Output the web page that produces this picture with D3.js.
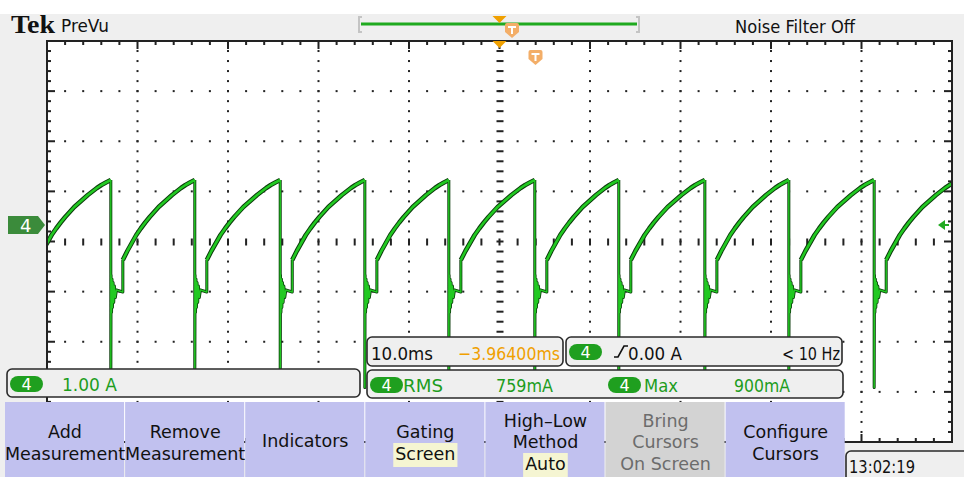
<!DOCTYPE html>
<html><head><meta charset="utf-8">
<script src="https://cdn.jsdelivr.net/npm/d3@7"></script>
<style>body{margin:0;background:#fff}svg{display:block}</style>
</head><body>
<svg id="c" width="964" height="477" font-family="DejaVu Sans, sans-serif"></svg>
<script>
// ---------- data ----------
// times (ms) at which the current drops; first one lies just off screen to the left
const dropTimes = [-52.32, -42.95, -33.67, -24.23, -14.88, -5.60, 3.90, 13.18, 22.69, 31.97, 41.40];
// shape of the rising ramp after each drop (ms after ramp start, amps)
const rampOffsetsMs = [0, 0.5, 1.0, 1.5, 2.0, 2.5, 3.0, 3.5, 4.0, 4.5, 5.0, 5.5, 6.0, 6.5, 7.0, 7.5, 8.04];
const rampAmps      = [-0.70, -0.52, -0.36, -0.20, -0.07, 0.05, 0.16, 0.26, 0.36, 0.44, 0.52, 0.60, 0.67, 0.74, 0.80, 0.85, 0.90];
// the drop, spike and ringing just after each drop (ms after drop, amps)
const ringOffsetsMs = [0, 0, 0.03, 0.08, 0.13, 0.18, 0.25, 0.32, 0.40, 0.50, 0.62, 1.33, 1.33];
const ringAmps      = [0.90, -3.25, -1.00, -1.75, -1.08, -1.65, -1.15, -1.55, -1.22, -1.45, -1.30, -1.34, -0.70];
// readouts
const timeDomainMs = [-50, 50];       // 10 divisions x 10.0 ms
const ampDomain = [-4.34, 3.68];      // 8 divisions x 1.00 A, ch4 ground at 0 A
const horizScale = "10.0ms", horizPos = "\u22123.96400ms";
const trigLevel = "0.00 A", trigFreq = "< 10 Hz";
const chScale = "1.00 A";
const measNames = ["RMS", "Max"], measValues = ["759mA", "900mA"];
const buttonLabels = [["Add","Measurement"],["Remove","Measurement"],["Indicators"],["Gating","Screen"],["High\u2013Low","Method","Auto"],["Bring","Cursors","On Screen"],["Configure","Cursors"]];
const clockText = "13:02:19";

// ---------- layout ----------
const svg = d3.select("#c");
const P = {l:47, r:952, t:41, b:442};
const x = d3.scaleLinear().domain(timeDomainMs).range([P.l, P.r]);
const y = d3.scaleLinear().domain(ampDomain).range([P.b, P.t]);
const xd = d3.scaleLinear().domain([0,10]).range([P.l, P.r]);
const yd = d3.scaleLinear().domain([0,8]).range([P.t, P.b]);

svg.append("rect").attr("width",964).attr("height",477).attr("fill","#fff");
svg.append("rect").attr("x",0).attr("y",14).attr("width",964).attr("height",463).attr("fill","#efefef");
svg.append("rect").attr("x",P.l).attr("y",P.t).attr("width",P.r-P.l).attr("height",P.b-P.t).attr("fill","#fff");

// graticule
const g = svg.append("g").attr("fill","#222");
const minorX = d3.range(0,51).map(m=>m/5), minorY = d3.range(0,41).map(j=>j/5);
[1,2,3,4,6,7,8,9].forEach(i=>{
  g.selectAll(null).data(minorY).join("rect").attr("x",xd(i)-1).attr("y",d=>yd(d)-1).attr("width",2).attr("height",2);
});
[1,2,3,5,6,7].forEach(k=>{
  g.selectAll(null).data(minorX).join("rect").attr("x",d=>xd(d)-1).attr("y",yd(k)-1).attr("width",2).attr("height",2);
});
g.selectAll(null).data(minorY).join("rect").attr("x",xd(5)-3).attr("y",d=>yd(d)-1).attr("width",7).attr("height",2);
g.selectAll(null).data(minorX).join("rect").attr("x",d=>xd(d)-1).attr("y",yd(4)-3).attr("width",2).attr("height",7);
const tl = d=> (Math.round(d*5)%5===0)?8:4;
g.selectAll(null).data(minorX).join("rect").attr("x",d=>xd(d)-1).attr("y",P.t).attr("width",2).attr("height",tl);
g.selectAll(null).data(minorX).join("rect").attr("x",d=>xd(d)-1).attr("y",d=>P.b-tl(d)).attr("width",2).attr("height",tl);
g.selectAll(null).data(minorY).join("rect").attr("x",P.l).attr("y",d=>yd(d)-1).attr("width",tl).attr("height",2);
g.selectAll(null).data(minorY).join("rect").attr("x",d=>P.r-tl(d)).attr("y",d=>yd(d)-1).attr("width",tl).attr("height",2);
svg.append("rect").attr("x",P.l).attr("y",P.t).attr("width",P.r-P.l).attr("height",P.b-P.t)
  .attr("fill","none").attr("stroke","#222").attr("stroke-width",2);

// ---------- trace ----------
const rampSegs = [], ringSegs = [];
for (let i=0;i<dropTimes.length;i++){
  const td = dropTimes[i];
  if (i>0) ringSegs.push(ringOffsetsMs.map((o,k)=>[td+o, ringAmps[k]]));
  const t0 = td + ringOffsetsMs[ringOffsetsMs.length-1];
  const tEnd = i<dropTimes.length-1 ? dropTimes[i+1] : t0 + rampOffsetsMs[rampOffsetsMs.length-1];
  const sc = (tEnd - t0)/rampOffsetsMs[rampOffsetsMs.length-1];
  rampSegs.push(rampOffsetsMs.map((o,k)=>[t0+o*sc, rampAmps[k]]));
}
svg.append("clipPath").attr("id","clip").append("rect").attr("x",P.l+1).attr("y",P.t+1).attr("width",P.r-P.l-2).attr("height",P.b-P.t-2);
const line = d3.line().x(d=>x(d[0])).y(d=>y(d[1]));
const tr = svg.append("g").attr("clip-path","url(#clip)").attr("fill","none").attr("stroke-linejoin","round");
tr.selectAll(null).data(ringSegs).join("path").attr("d",line).attr("stroke","#0b3b0b").attr("stroke-width",3);
tr.selectAll(null).data(rampSegs).join("path").attr("d",line).attr("stroke","#0b3b0b").attr("stroke-width",4.6);
tr.selectAll(null).data(ringSegs).join("path").attr("d",line).attr("stroke","#22c922").attr("stroke-width",1.4);
tr.selectAll(null).data(rampSegs).join("path").attr("d",line).attr("stroke","#22c922").attr("stroke-width",2.6);

// ---------- markers ----------
svg.append("path").attr("d",`M8,${y(0)-9}H38L45,${y(0)}L38,${y(0)+9}H8Z`).attr("fill","#3b8b3b");
svg.append("text").attr("x",20).attr("y",y(0)+7).attr("font-size",18).attr("fill","#fff").text("4");
svg.append("path").attr("d",`M938,${y(0)}L945,${y(0)-5}V${y(0)+5}Z`).attr("fill","#22aa22");
svg.append("rect").attr("x",944).attr("y",y(0)-1).attr("width",5).attr("height",2).attr("fill","#22aa22");

// record view bar
svg.append("path").attr("d","M362,17H359V32H362M636,17H639V32H636").attr("fill","none").attr("stroke","#c4c4c4").attr("stroke-width",2);
svg.append("rect").attr("x",361).attr("y",22.5).attr("width",276).attr("height",3).attr("fill","#1faa1f");
const tri = (cx,ty)=>`M${cx-7},${ty}H${cx+7}L${cx},${ty+7}Z`;
svg.append("path").attr("d",tri(x(0),16)).attr("fill","#f0a000");
svg.append("path").attr("d",tri(x(0),41)).attr("fill","#f0a000");
const tmark = (cx,ty)=>{
  svg.append("path").attr("d",`M${cx-7},${ty+2}Q${cx-7},${ty} ${cx-5},${ty}H${cx+5}Q${cx+7},${ty} ${cx+7},${ty+2}V${ty+9}L${cx},${ty+15}L${cx-7},${ty+9}Z`).attr("fill","#f3ae68");
  svg.append("rect").attr("x",cx-4).attr("y",ty+3).attr("width",8).attr("height",2).attr("fill","#fff");
  svg.append("rect").attr("x",cx-1).attr("y",ty+3).attr("width",2).attr("height",8).attr("fill","#fff");
};
tmark(512,23);
tmark(535.5,50);

// header texts
svg.append("text").attr("x",11).attr("y",33).attr("font-family","Liberation Serif, DejaVu Serif, serif").attr("font-weight","bold")
  .attr("font-size",26).attr("textLength",44).attr("lengthAdjust","spacingAndGlyphs").attr("fill","#111").text("Tek");
svg.append("text").attr("x",61).attr("y",32).attr("font-size",17).attr("textLength",48).attr("lengthAdjust","spacingAndGlyphs").attr("fill","#111").text("PreVu");
svg.append("text").attr("x",735).attr("y",33).attr("font-size",18).attr("textLength",120).attr("lengthAdjust","spacingAndGlyphs").attr("fill","#111").text("Noise Filter Off");

// ---------- readout panels ----------
const box = (x0,y0,w,h)=>svg.append("rect").attr("x",x0).attr("y",y0).attr("width",w).attr("height",h).attr("rx",5)
  .attr("fill","#efefef").attr("stroke","#2a2a2a").attr("stroke-width",1.6);
const txt = (s,x0,y0,len,fill,size)=>svg.append("text").attr("x",x0).attr("y",y0).attr("font-size",size||18)
  .attr("textLength",len).attr("lengthAdjust","spacingAndGlyphs").attr("fill",fill).text(s);
const pill = (x0,y0)=>{
  svg.append("rect").attr("x",x0).attr("y",y0).attr("width",33).attr("height",16).attr("rx",8).attr("fill","#1f9f1f");
  svg.append("text").attr("x",x0+16.5).attr("y",y0+14).attr("text-anchor","middle").attr("font-size",16).attr("fill","#fff").text("4");
};
box(7,369,353,28);
pill(10,376); txt(chScale,62,391,55,"#1d9d1d");
box(367,337,196,29);
txt(horizScale,371,360,62,"#111"); txt(horizPos,458,360,102,"#f0a000");
box(566,337,276,29);
pill(569,344);
svg.append("path").attr("d","M614,357H618L624,346H628").attr("fill","none").attr("stroke","#111").attr("stroke-width",1.6);
txt(trigLevel,628,360,54,"#111"); txt(trigFreq,782,360,58,"#111");
box(367,370,476,28);
pill(370,377); txt(measNames[0],403,392,40,"#1d9d1d"); txt(measValues[0],496,392,57,"#1d9d1d");
pill(608,377); txt(measNames[1],644,392,34,"#1d9d1d"); txt(measValues[1],734,392,56,"#1d9d1d");

// ---------- soft buttons ----------
const bx = d3.range(8).map(i=>5+i*120.1);
buttonLabels.forEach((lab,i)=>{
  const x0=bx[i], w=bx[i+1]-bx[i], cx=x0+w/2, grey = i===5;
  svg.append("rect").attr("x",x0).attr("y",402).attr("width",w-1).attr("height",75).attr("fill",grey?"#d3d3d3":"#c1c1ef");
  const base = lab.length===1?[447]:lab.length===2?[438,460]:[427,448,470];
  lab.forEach((s,k)=>{
    const hl = (i===3&&k===1)||(i===4&&k===2);
    const t = svg.append("text").attr("x",cx).attr("y",base[k]).attr("text-anchor","middle").attr("font-size",17.5)
      .attr("fill",grey?"#6c6c6c":"#111").text(s);
    if (hl){
      const bb=t.node().getBBox();
      svg.insert("rect",()=>t.node()).attr("x",bb.x-2).attr("y",base[k]-17).attr("width",bb.width+4).attr("height",24).attr("fill","#f5f5d2");
    }
  });
});
// clock
svg.append("rect").attr("x",846).attr("y",451).attr("width",130).attr("height",40).attr("rx",5).attr("fill","#efefef").attr("stroke","#2a2a2a").attr("stroke-width",1.6);
txt(clockText,849,473,66,"#111",17);
</script>
</body></html>
